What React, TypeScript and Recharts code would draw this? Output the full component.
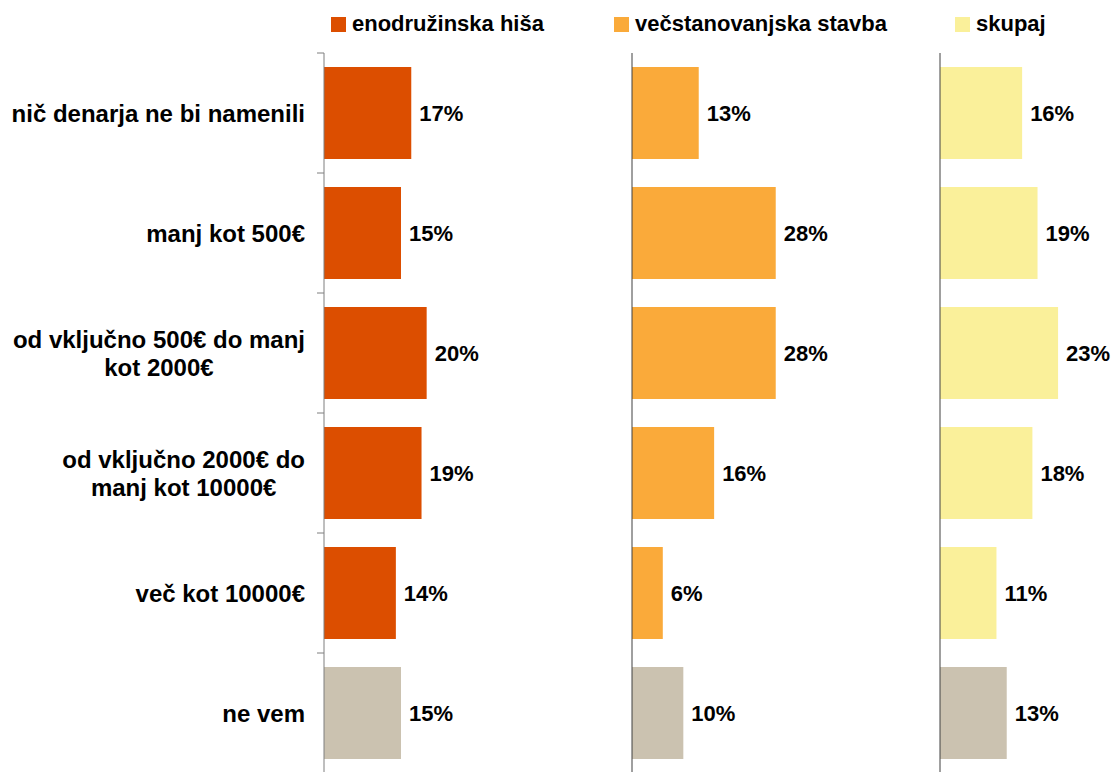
import React from 'react';
import { BarChart, Bar, XAxis, YAxis, Cell, LabelList } from 'recharts';

const categories = [
  'nič denarja ne bi namenili',
  'manj kot 500€',
  'od vključno 500€ do manj\nkot 2000€',
  'od vključno 2000€ do\nmanj kot 10000€',
  'več kot 10000€',
  'ne vem',
];

const seriesNames = ['enodružinska hiša', 'večstanovanjska stavba', 'skupaj'];
const seriesColors = ['#DC4E00', '#FAAA3A', '#FAF09A'];
const unknownColor = '#CBC2B0';

const enodruzinska = [17, 15, 20, 19, 14, 15];
const vecstanovanjska = [13, 28, 28, 16, 6, 10];
const skupaj = [16, 19, 23, 18, 11, 13];

const seriesValues = [enodruzinska, vecstanovanjska, skupaj];

const FONT = '"Liberation Sans", Arial, sans-serif';
const PLOT_TOP = 53;
const PLOT_HEIGHT = 720;
const PANEL_WIDTH = 308;
const HALF_BAND = PLOT_HEIGHT / categories.length / 2;
const TICK_SIZE = 7;
const TICK_MARGIN = 12;

// axis x positions for the three panels
const panelX = [324, 632, 940];
const legendX = [331, 614, 955];

let ctx: CanvasRenderingContext2D | null = null;
const measure = (s: string) => {
  if (!ctx) ctx = document.createElement('canvas').getContext('2d');
  if (!ctx) return s.length * 13;
  ctx.font = `bold 24px ${FONT}`;
  return ctx.measureText(s).width;
};

const CategoryTick = ({ x, y, payload, index }: any) => {
  const lines = String(payload.value).split('\n');
  const maxW = Math.max(...lines.map(measure));
  const cx = x - maxW / 2;
  const lineH = 28;
  const y0 = y - ((lines.length - 1) * lineH) / 2;
  const axisX = x + TICK_SIZE + TICK_MARGIN;
  return (
    <g>
      <line x1={axisX - TICK_SIZE} x2={axisX} y1={y - HALF_BAND} y2={y - HALF_BAND} stroke="#7f7f7f" />
      {index === categories.length - 1 && (
        <line x1={axisX - TICK_SIZE} x2={axisX} y1={y + HALF_BAND} y2={y + HALF_BAND} stroke="#7f7f7f" />
      )}
      <text textAnchor="middle" fontFamily={FONT} fontWeight="bold" fontSize={24} fill="#000">
        {lines.map((l, i) => (
          <tspan key={i} x={cx} y={y0 + i * lineH} dy="0.355em">{l}</tspan>
        ))}
      </text>
    </g>
  );
};

function Panel({ idx }: { idx: number }) {
  const data = categories.map((c, i) => ({ name: c, value: seriesValues[idx][i] }));
  const first = idx === 0;
  const axisWidth = first ? panelX[0] : 20;
  const left = panelX[idx] - axisWidth;
  return (
    <div style={{ position: 'absolute', left, top: 0 }}>
      <BarChart
        layout="vertical"
        width={axisWidth + PANEL_WIDTH}
        height={PLOT_TOP + PLOT_HEIGHT + 7}
        data={data}
        margin={{ top: PLOT_TOP, right: 0, bottom: 7, left: 0 }}
      >
        <XAxis type="number" domain={[0, 60]} hide />
        <YAxis
          type="category"
          dataKey="name"
          width={axisWidth}
          axisLine={{ stroke: first ? '#7f7f7f' : '#404040' }}
          tickLine={false}
          tickSize={TICK_SIZE}
          tickMargin={TICK_MARGIN}
          tick={first ? <CategoryTick /> : false}
          interval={0}
        />
        <Bar dataKey="value" barSize={92} isAnimationActive={false}>
          {data.map((d, i) => (
            <Cell key={i} fill={i === categories.length - 1 ? unknownColor : seriesColors[idx]} />
          ))}
          <LabelList
            dataKey="value"
            position="right"
            offset={8}
            formatter={(v: any) => `${v}%`}
            style={{ fontFamily: FONT, fontWeight: 'bold', fontSize: 22, fill: '#000' }}
          />
        </Bar>
      </BarChart>
    </div>
  );
}

export default function App() {
  return (
    <div style={{ position: 'absolute', left: 0, top: 0, width: 1113, height: 772, overflow: 'hidden', background: '#fff' }}>
      {[0, 1, 2].map((i) => (
        <Panel key={i} idx={i} />
      ))}
      <svg width={1113} height={45} style={{ position: 'absolute', left: 0, top: 0 }}>
        {seriesNames.map((n, i) => (
          <g key={n}>
            <rect x={legendX[i]} y={17} width={15} height={15} fill={seriesColors[i]} />
            <text x={legendX[i] + 21} y={31} fontFamily={FONT} fontWeight="bold" fontSize={22} fill="#000">
              {n}
            </text>
          </g>
        ))}
      </svg>
    </div>
  );
}
